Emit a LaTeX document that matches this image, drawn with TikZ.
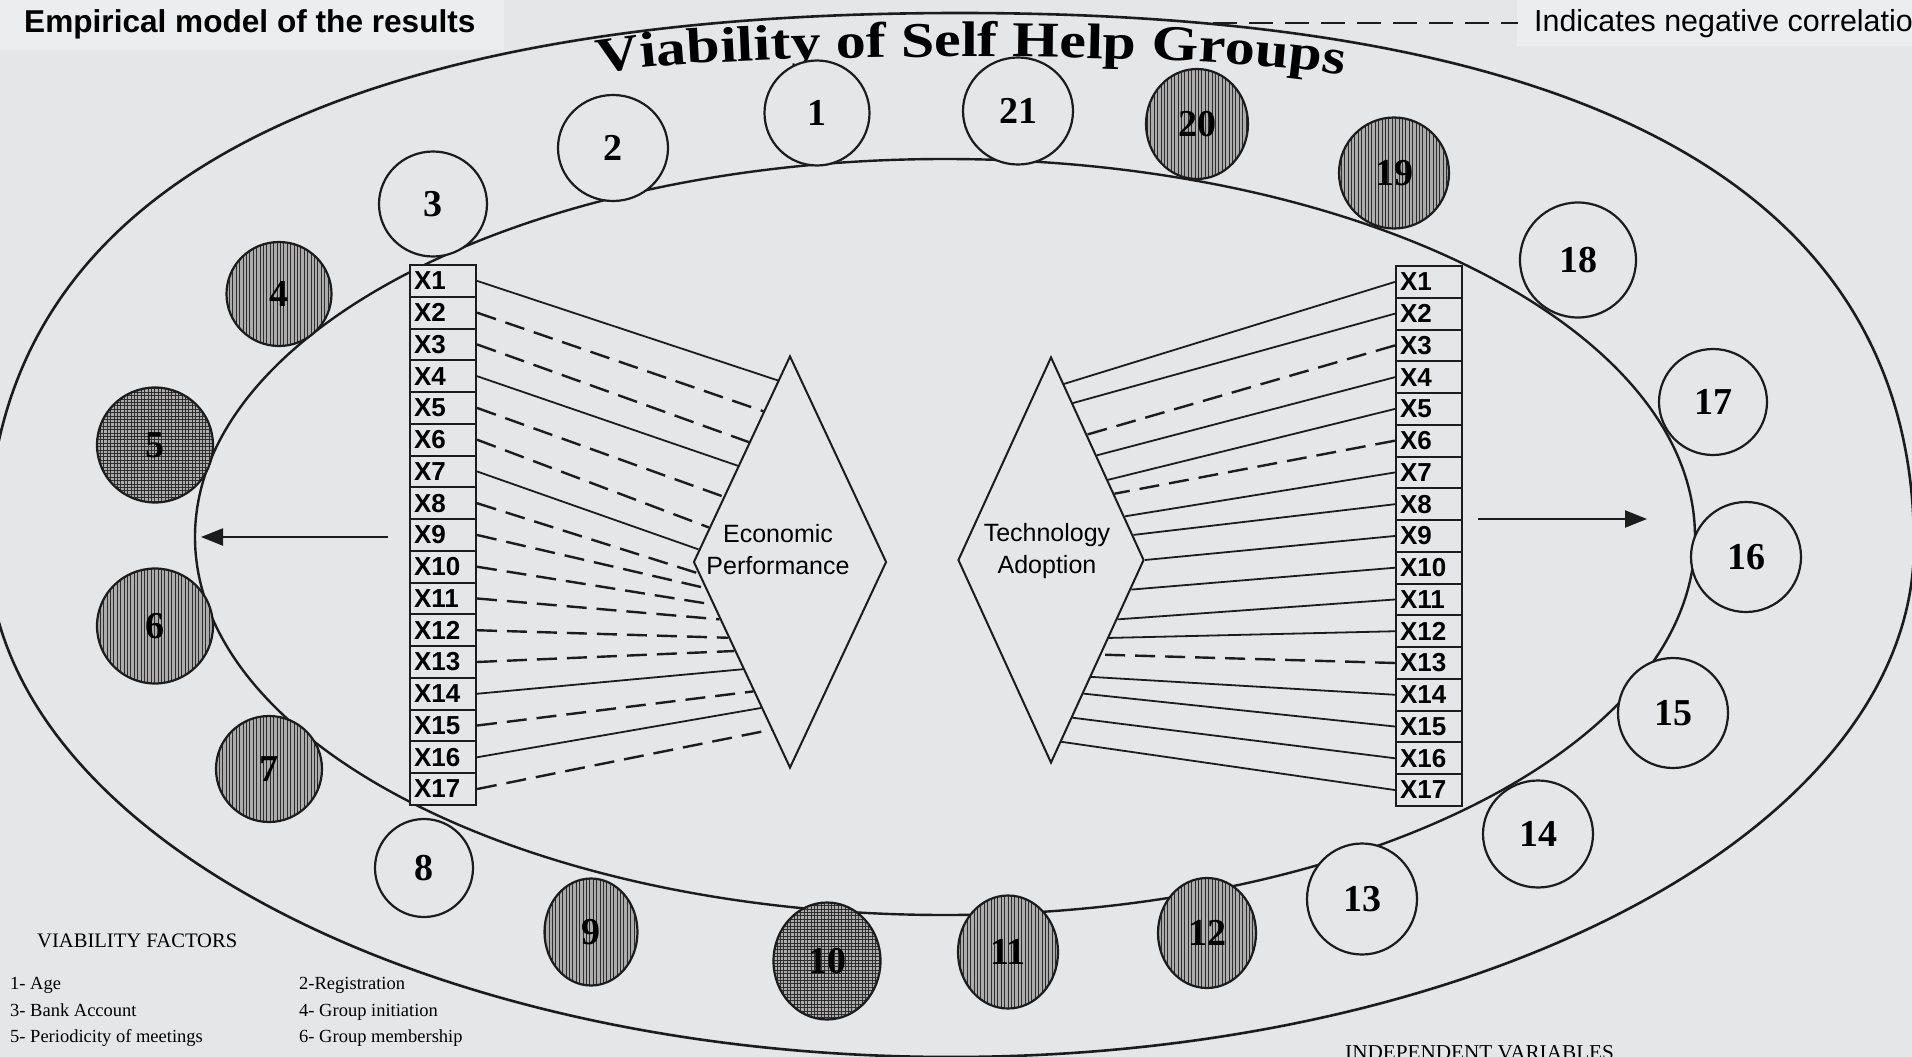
\documentclass[tikz,border=0pt]{standalone}
\usepackage{fontspec}
\setmainfont{Liberation Serif}
\newfontfamily\sansf{Liberation Sans}
\newfontfamily\titlef{Liberation Serif}[FakeStretch=1.2]
\usetikzlibrary{shapes.geometric, arrows.meta, patterns, decorations.text, calc}
\definecolor{bg}{RGB}{228,230,231}
\definecolor{lightbox}{RGB}{236,237,238}
\definecolor{ink}{RGB}{28,28,28}
\definecolor{hatchink}{RGB}{45,45,45}
\definecolor{shade}{RGB}{172,172,172}
\pgfdeclarepatternformonly{vhatch}{\pgfqpoint{-1pt}{-1pt}}{\pgfqpoint{4.4pt}{4.4pt}}{\pgfqpoint{3.4pt}{3.4pt}}{%
  \pgfsetlinewidth{1.0pt}%
  \pgfpathmoveto{\pgfqpoint{1.7pt}{-1pt}}\pgfpathlineto{\pgfqpoint{1.7pt}{4.4pt}}%
  \pgfusepath{stroke}}
\pgfdeclarepatternformonly{gridhatch}{\pgfqpoint{-1pt}{-1pt}}{\pgfqpoint{4.4pt}{4.4pt}}{\pgfqpoint{3.4pt}{3.4pt}}{%
  \pgfsetlinewidth{0.8pt}%
  \pgfpathmoveto{\pgfqpoint{1.7pt}{-1pt}}\pgfpathlineto{\pgfqpoint{1.7pt}{4.4pt}}%
  \pgfpathmoveto{\pgfqpoint{-1pt}{1.7pt}}\pgfpathlineto{\pgfqpoint{4.4pt}{1.7pt}}%
  \pgfusepath{stroke}}
\tikzset{
  wc/.style={ellipse, draw=ink, line width=2.2pt, fill=bg, inner sep=0pt,
    font=\fontsize{38}{38}\selectfont\bfseries},
  sc/.style={ellipse, draw=ink, line width=2.2pt, inner sep=0pt,
    preaction={fill=shade}, pattern=vhatch, pattern color=hatchink,
    font=\fontsize{38}{38}\selectfont\bfseries},
  gc/.style={ellipse, draw=ink, line width=2.2pt, inner sep=0pt,
    preaction={fill=shade}, pattern=gridhatch, pattern color=hatchink,
    font=\fontsize{38}{38}\selectfont\bfseries},
  cell/.style={rectangle, draw=ink, line width=2pt, fill=bg, minimum width=66pt,
    minimum height=31.76pt, inner sep=0pt, text width=58pt, align=left,
    font=\sansf\bfseries\fontsize{26}{26}\selectfont},
  dia/.style={diamond, draw=ink, line width=2pt, fill=bg, inner sep=0pt},
  dtext/.style={align=center, inner sep=0pt, font=\sansf\fontsize{25}{32}\selectfont},
  solidcon/.style={draw=ink, line width=1.8pt},
  dashcon/.style={draw=ink, line width=2.4pt, dash pattern=on 20pt off 10pt},
  arr/.style={draw=ink, line width=2.2pt, -{Triangle[length=22pt,width=17pt]}},
  legtext/.style={anchor=base west, inner sep=0pt, font=\fontsize{18.5}{18.5}\selectfont},
}
\begin{document}
\begin{tikzpicture}[x=1pt, y=-1pt]
\useasboundingbox (0,0) rectangle (1912,1057);
\clip (0,0) rectangle (1912,1057);
\fill[bg] (0,0) rectangle (1912,1057);
\fill[lightbox] (0,0) rectangle (504,50);
\fill[lightbox] (1517,0) rectangle (1912,46);

% outer ellipse (rounder top half)
\draw[ink, line width=2.6pt] (-12,545) .. controls (-12,185) and (340,13) .. (960,13)
  .. controls (1580,13) and (1914,185) .. (1914,545)
  arc[start angle=0, end angle=180, x radius=963, y radius=512] -- cycle;

% curved title
\begin{scope}[y=1pt]
\path[decorate, decoration={text along path, text align=center,
  text={|\titlef\bfseries\fontsize{50}{50}\selectfont|Viability of Self Help Groups}}]
  (590,-76) .. controls (680,-50) and (1260,-50) .. (1352,-78);
\end{scope}

% inner ellipse
\draw[ink, line width=2.4pt] (945,537) ellipse [x radius=750, y radius=378];

% circles
\node[wc, minimum width=105pt, minimum height=105pt] (c1) at (817,113) {1};
\node[wc, minimum width=110pt, minimum height=106pt] (c2) at (613,148) {2};
\node[wc, minimum width=108pt, minimum height=105pt] (c3) at (433,204) {3};
\node[sc, minimum width=105pt, minimum height=104pt] (c4) at (279,294) {4};
\node[gc, minimum width=116pt, minimum height=115pt] (c5) at (155,445) {5};
\node[sc, minimum width=116pt, minimum height=115pt] (c6) at (155,626) {6};
\node[sc, minimum width=106pt, minimum height=106pt] (c7) at (269,769) {7};
\node[wc, minimum width=98pt, minimum height=98pt] (c8) at (424,868) {8};
\node[sc, minimum width=93pt, minimum height=107pt] (c9) at (591,932) {9};
\node[gc, minimum width=107pt, minimum height=117pt] (c10) at (827,961) {10};
\node[sc, minimum width=100pt, minimum height=113pt] (c11) at (1008,952) {11};
\node[sc, minimum width=98pt, minimum height=110pt] (c12) at (1207,933) {12};
\node[wc, minimum width=110pt, minimum height=111pt] (c13) at (1362,899) {13};
\node[wc, minimum width=110pt, minimum height=107pt] (c14) at (1538,834) {14};
\node[wc, minimum width=110pt, minimum height=110pt] (c15) at (1673,713) {15};
\node[wc, minimum width=110pt, minimum height=110pt] (c16) at (1746,557) {16};
\node[wc, minimum width=108pt, minimum height=106pt] (c17) at (1713,402) {17};
\node[wc, minimum width=116pt, minimum height=115pt] (c18) at (1578,260) {18};
\node[sc, minimum width=110pt, minimum height=111pt] (c19) at (1394,173) {19};
\node[sc, minimum width=102pt, minimum height=110pt] (c20) at (1197,124) {20};
\node[wc, minimum width=110pt, minimum height=107pt] (c21) at (1018,111) {21};

% variable columns
\foreach \i in {1,...,17} {
  \node[cell] (L\i) at (443, {265+(\i-0.5)*31.76}) {X\i};
  \node[cell] (R\i) at (1429, {266+(\i-0.5)*31.76}) {X\i};
}

% diamonds
\node[dia, minimum width=193pt, minimum height=412pt] (EP) at (790,562) {};
\node[dia, minimum width=186pt, minimum height=406pt] (TA) at (1051,560) {};
\node[dtext] (EPt) at (778,550) {Economic\\Performance};
\node[dtext] (TAt) at (1047,551) {Technology\\Adoption};

% connectors to Economic Performance
\draw[solidcon] (L1.east) -- ($(EP.north)!0.123!(EP.west)$);
\draw[dashcon] (L2.east) -- ($(EP.north)!0.272!(EP.west)$);
\draw[dashcon] (L3.east) -- ($(EP.north)!0.421!(EP.west)$);
\draw[solidcon] (L4.east) -- ($(EP.north)!0.535!(EP.west)$);
\draw[dashcon] (L5.east) -- ($(EP.north)!0.684!(EP.west)$);
\draw[dashcon] (L6.east) -- ($(EP.north)!0.833!(EP.west)$);
\draw[solidcon] (L7.east) -- ($(EP.north)!0.939!(EP.west)$);
\draw[dashcon] (L8.east) -- ($(EP.west)!0.054!(EP.south)$);
\draw[dashcon] (L9.east) -- ($(EP.west)!0.125!(EP.south)$);
\draw[dashcon] (L10.east) -- ($(EP.west)!0.205!(EP.south)$);
\draw[dashcon] (L11.east) -- ($(EP.west)!0.277!(EP.south)$);
\draw[dashcon] (L12.east) -- ($(EP.west)!0.366!(EP.south)$);
\draw[dashcon] (L13.east) -- ($(EP.west)!0.43!(EP.south)$);
\draw[solidcon] (L14.east) -- ($(EP.west)!0.518!(EP.south)$);
\draw[dashcon] (L15.east) -- ($(EP.west)!0.625!(EP.south)$);
\draw[solidcon] (L16.east) -- ($(EP.west)!0.705!(EP.south)$);
\draw[dashcon] (L17.east) -- ($(EP.west)!0.81!(EP.south)$);

% connectors to Technology Adoption
\draw[solidcon] (R1.west) -- ($(TA.north)!0.137!(TA.east)$);
\draw[solidcon] (R2.west) -- ($(TA.north)!0.231!(TA.east)$);
\draw[dashcon] (R3.west) -- ($(TA.north)!0.385!(TA.east)$);
\draw[solidcon] (R4.west) -- ($(TA.north)!0.487!(TA.east)$);
\draw[solidcon] (R5.west) -- ($(TA.north)!0.607!(TA.east)$);
\draw[dashcon] (R6.west) -- ($(TA.north)!0.675!(TA.east)$);
\draw[solidcon] (R7.west) -- ($(TA.north)!0.786!(TA.east)$);
\draw[solidcon] (R8.west) -- ($(TA.north)!0.877!(TA.east)$);
\draw[solidcon] (R9.west) -- (TA.east);
\draw[solidcon] (R10.west) -- ($(TA.east)!0.145!(TA.south)$);
\draw[solidcon] (R11.west) -- ($(TA.east)!0.291!(TA.south)$);
\draw[solidcon] (R12.west) -- ($(TA.east)!0.382!(TA.south)$);
\draw[dashcon] (R13.west) -- ($(TA.east)!0.464!(TA.south)$);
\draw[solidcon] (R14.west) -- ($(TA.east)!0.573!(TA.south)$);
\draw[solidcon] (R15.west) -- ($(TA.east)!0.655!(TA.south)$);
\draw[solidcon] (R16.west) -- ($(TA.east)!0.773!(TA.south)$);
\draw[solidcon] (R17.west) -- ($(TA.east)!0.891!(TA.south)$);

% arrows
\coordinate (la0) at (388,537);
\coordinate (la1) at (201,537);
\draw[arr] (la0) -- (la1);
\coordinate (ra0) at (1478,519);
\coordinate (ra1) at (1647,519);
\draw[arr] (ra0) -- (ra1);

% headings and legend
\node[anchor=base west, inner sep=0pt, font=\sansf\bfseries\fontsize{31.6}{31.6}\selectfont] (ttl) at (24,33) {Empirical model of the results};
\coordinate (lg0) at (1213,23);
\coordinate (lg1) at (1518,23);
\draw[ink, line width=2.5pt, dash pattern=on 24pt off 12pt] (lg0) -- (lg1);
\node[anchor=west, inner sep=0pt, font=\sansf\fontsize{30.4}{30.4}\selectfont] (lgt) at (1534,24) {Indicates negative correlation};

\node[anchor=base west, inner sep=0pt, font=\fontsize{20.6}{20.6}\selectfont] (vf) at (37,947) {VIABILITY FACTORS};
\node[legtext] (f1) at (10,989) {1- Age};
\node[legtext] (f2) at (299,989) {2-Registration};
\node[legtext] (f3) at (10,1016) {3- Bank Account};
\node[legtext] (f4) at (299,1016) {4- Group initiation};
\node[legtext] (f5) at (10,1042) {5- Periodicity of meetings};
\node[legtext] (f6) at (299,1042) {6- Group membership};
\node[anchor=base west, inner sep=0pt, font=\fontsize{21.2}{21.2}\selectfont] (iv) at (1345,1059) {INDEPENDENT VARIABLES};
\end{tikzpicture}
\end{document}
